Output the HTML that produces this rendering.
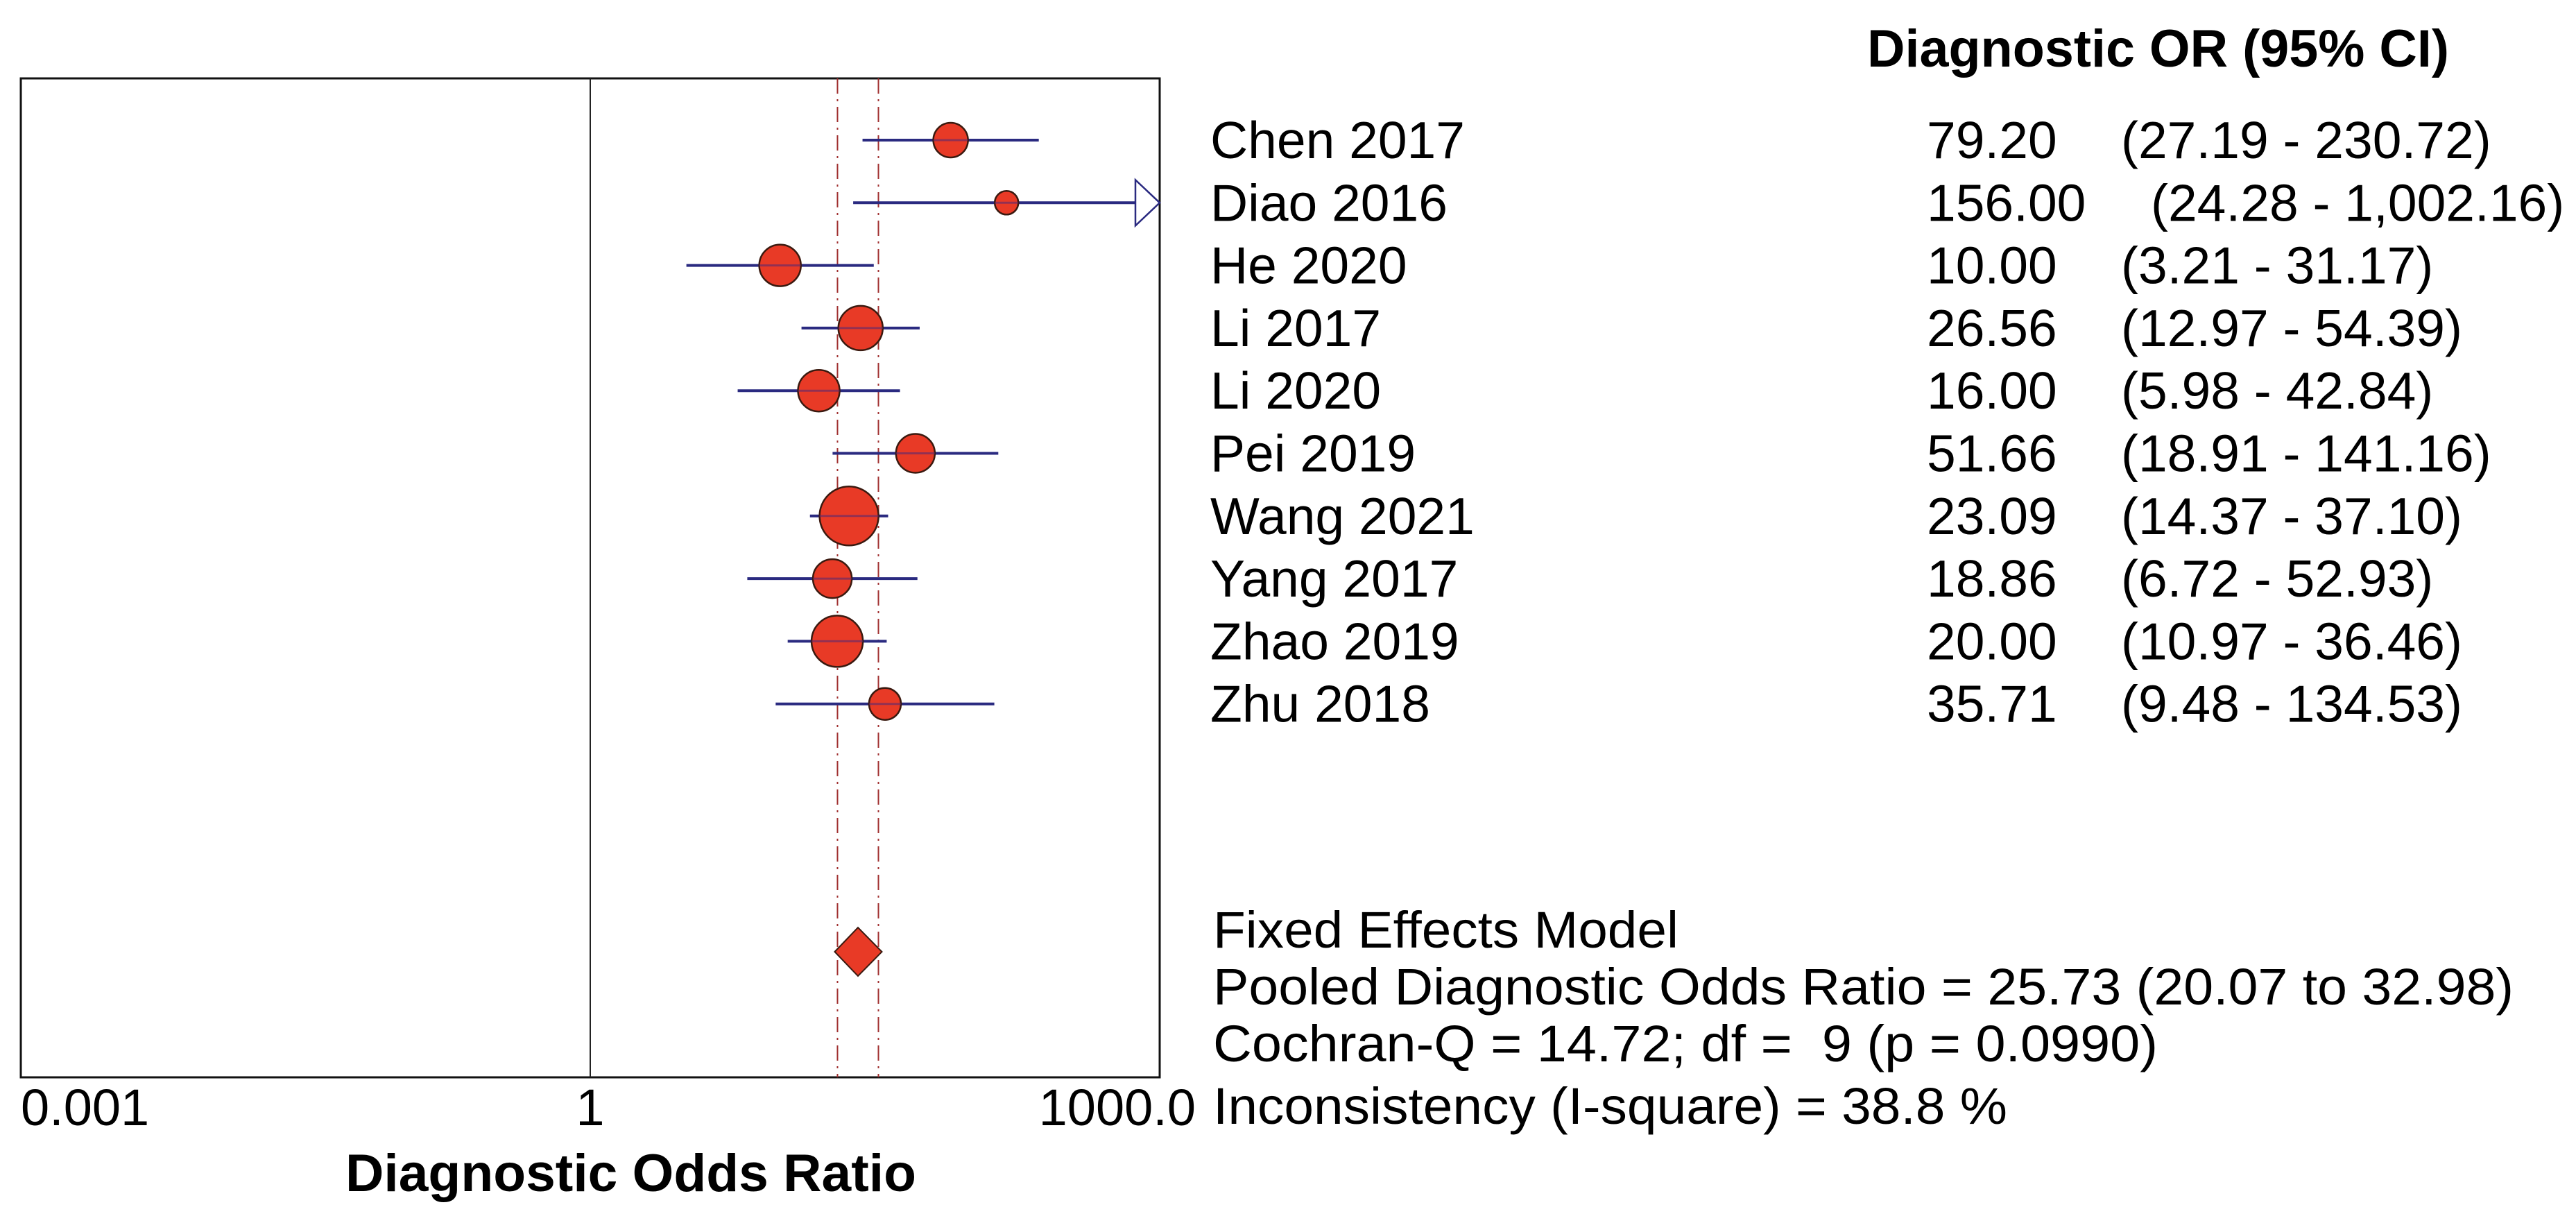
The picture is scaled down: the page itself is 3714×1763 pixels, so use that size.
<!DOCTYPE html>
<html><head><meta charset="utf-8"><style>
html,body{margin:0;padding:0;background:#fff;}
svg{display:block;font-family:"Liberation Sans",Arial,sans-serif;}
</style></head><body>
<svg id="chart" width="3714" height="1763" viewBox="0 0 3714 1763">
<rect x="0" y="0" width="3714" height="1763" fill="#fff"/>
<g id="marks"></g>
<g id="texts"></g>
</svg>
<script>
const studies = ["Chen 2017","Diao 2016","He 2020","Li 2017","Li 2020","Pei 2019","Wang 2021","Yang 2017","Zhao 2019","Zhu 2018"];
const ors = [79.20,156.00,10.00,26.56,16.00,51.66,23.09,18.86,20.00,35.71];
const ciLow = [27.19,24.28,3.21,12.97,5.98,18.91,14.37,6.72,10.97,9.48];
const ciHigh = [230.72,1002.16,31.17,54.39,42.84,141.16,37.10,52.93,36.46,134.53];
const orLabels = ["79.20","156.00","10.00","26.56","16.00","51.66","23.09","18.86","20.00","35.71"];
const ciLabels = ["(27.19 - 230.72)","(24.28 - 1,002.16)","(3.21 - 31.17)","(12.97 - 54.39)","(5.98 - 42.84)","(18.91 - 141.16)","(14.37 - 37.10)","(6.72 - 52.93)","(10.97 - 36.46)","(9.48 - 134.53)"];
const weights = [25,17,30,32,30,28,42.5,28,37,23];
const pooled = [25.73,20.07,32.98];
const tickValues = [0.001,1,1000];
const tickLabels = ["0.001","1","1000.0"];
const summaryLines = ["Fixed Effects Model","Pooled Diagnostic Odds Ratio = 25.73 (20.07 to 32.98)","Cochran-Q = 14.72; df =\u00a0\u00a09 (p = 0.0990)","Inconsistency (I-square) = 38.8 %"];

const NS="http://www.w3.org/2000/svg";
const L=30,R=1672,T=113,B=1553;
const xs=v=>L+(Math.log10(v)+3)/6*(R-L);
const ys=i=>202+i*90.3;
const marks=document.getElementById('marks'), texts=document.getElementById('texts');
function mk(tag,attrs,parent){const e=document.createElementNS(NS,tag);for(const k in attrs)e.setAttribute(k,attrs[k]);parent.appendChild(e);return e;}

let e=mk('rect',{x:L,y:T,width:R-L,height:B-T,fill:'none',stroke:'#111','stroke-width':3},marks);


e=mk('line',{x1:xs(1),x2:xs(1),y1:T,y2:B,stroke:'#222','stroke-width':2},marks);


[pooled[1],pooled[2]].forEach((v,j)=>{
  const l=mk('line',{x1:xs(v),x2:xs(v),y1:T,y2:B,stroke:'#a03030','stroke-width':2,'stroke-dasharray':'22 8 3 8'},marks);
  
  
});

studies.forEach((s,i)=>{
  const y=ys(i);
  const x2=ciHigh[i]>1000?R-35:xs(ciHigh[i]);
  const l=mk('line',{x1:xs(ciLow[i]),x2:x2,y1:y,y2:y,stroke:'#2a2a80','stroke-width':4},marks);
  
  
  if(ciHigh[i]>1000){
    const a=mk('polygon',{points:`${R-35},${y-33} ${R},${y} ${R-35},${y+33}`,fill:'#fff',stroke:'#2a2a80','stroke-width':2.5},marks);
    
    
  }
  const c=mk('circle',{cx:xs(ors[i]),cy:y,r:weights[i],fill:'#e83a26',stroke:'#3a1a10','stroke-width':2.5},marks);
  
  
  const l2=mk('line',{x1:xs(ors[i])-weights[i],x2:xs(ors[i])+weights[i],y1:y,y2:y,stroke:'#5a2a70','stroke-width':3,opacity:0.6},marks);
  
  
  const t1=mk('text',{x:1745,y:y+26,'font-size':75,fill:'#000'},texts);t1.textContent=s;
  
  
  const t2=mk('text',{x:2778,y:y+26,'font-size':75,fill:'#000'},texts);t2.textContent=orLabels[i];
  
  
  const t3=mk('text',{x:i===1?3101:3058,y:y+26,'font-size':75,fill:'#000'},texts);t3.textContent=ciLabels[i];
  
  
});

const py=1372,pc=xs(pooled[0]);
e=mk('polygon',{points:`${xs(pooled[1])-4},${py} ${pc},${py-35} ${xs(pooled[2])+5},${py} ${pc},${py+35}`,fill:'#e83a26',stroke:'#3a1a10','stroke-width':2},marks);



tickValues.forEach((v,i)=>{
  const anchor=i===0?'start':(i===1?'middle':'end');
  const x=i===0?L:(i===1?xs(v):1724);
  const t=mk('text',{x:x,y:1622,'font-size':74,'text-anchor':anchor,fill:'#000'},texts);t.textContent=tickLabels[i];
  
  
});
e=mk('text',{x:498,y:1717,'font-size':76,'font-weight':'bold',fill:'#000',textLength:823,lengthAdjust:'spacingAndGlyphs'},texts);e.textContent='Diagnostic Odds Ratio';


e=mk('text',{x:2692,y:96,'font-size':76,'font-weight':'bold',fill:'#000',textLength:839,lengthAdjust:'spacingAndGlyphs'},texts);e.textContent='Diagnostic OR (95% CI)';


const sy=[1366,1448,1530,1620];
const sEnd=[2420,3624,3111,2894];
summaryLines.forEach((s,i)=>{
  const t=mk('text',{x:1749,y:sy[i],'font-size':74,fill:'#000',textLength:sEnd[i]-1749,lengthAdjust:'spacingAndGlyphs'},texts);t.textContent=s;
  
  
});
</script>
</body></html>
